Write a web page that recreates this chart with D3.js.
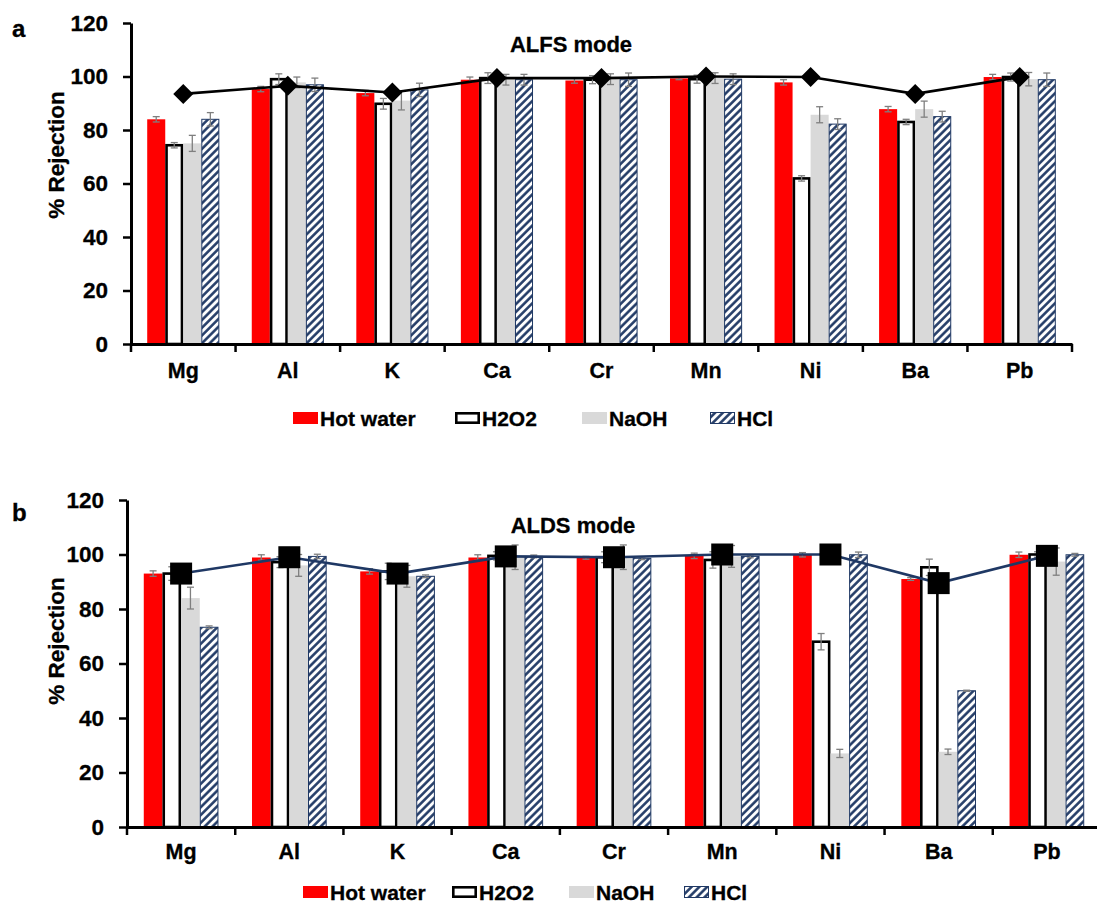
<!DOCTYPE html>
<html>
<head>
<meta charset="utf-8">
<script src="https://cdn.jsdelivr.net/npm/d3@7"></script>
<style>
  body { margin: 0; background: #fff; }
  svg { display: block; font-family: "Liberation Sans", Arial, sans-serif; font-weight: bold; }
  svg text { stroke: #000; stroke-width: 0.3px; }
</style>
</head>
<body>
<svg id="chart" width="1097" height="907"></svg>
<script>
// element categories and treatments
const categories = ['Mg', 'Al', 'K', 'Ca', 'Cr', 'Mn', 'Ni', 'Ba', 'Pb'];
const seriesNames = ['Hot water', 'H2O2', 'NaOH', 'HCl'];
const yTicks = [0, 20, 40, 60, 80, 100, 120];

// panel a - ALFS mode
const alfsHotWater = [84, 95.3, 93.8, 98.8, 98.5, 99.3, 97.8, 87.8, 99.8];
const alfsH2O2     = [74.3, 99, 89.8, 99.4, 98.8, 99, 61.9, 83, 99.8];
const alfsNaOH     = [75, 97.8, 91, 98.8, 99, 99.4, 85.7, 87.8, 99];
const alfsHCl      = [84, 96.9, 95, 98.8, 98.8, 99, 82.2, 85, 98.8];
const alfsLine     = [93.5, 96.5, 94, 99.4, 99.4, 100, 99.8, 93.5, 99.8];
const alfsHotWaterErr = [1, 1, 1, 1, 1, 0.5, 1, 1, 1];
const alfsH2O2Err     = [1, 2, 2, 2, 1.5, 1.5, 1, 1, 1.5];
const alfsNaOHErr     = [3, 2, 3.5, 2, 2, 2, 3, 3, 2.5];
const alfsHClErr      = [2.5, 2.5, 2.5, 2, 2.5, 2, 2, 2, 2.5];

// panel b - ALDS mode
const aldsHotWater = [93, 98.9, 93.8, 98.9, 98.8, 99.5, 99.9, 91, 99.9];
const aldsH2O2     = [93, 97.2, 93.8, 99.5, 99, 98, 68, 95.3, 100];
const aldsNaOH     = [84, 96, 92, 99, 99, 99.3, 27, 27.6, 97.4];
const aldsHCl      = [73.3, 99.3, 92, 99.3, 98.6, 99.3, 99.9, 50, 99.9];
const aldsLine     = [93, 99, 93, 99.3, 99, 100, 100, 89.5, 99.5];
const aldsHotWaterErr = [1, 1, 1, 1, 0.5, 1, 0.8, 0.5, 1];
const aldsH2O2Err     = [2.5, 2, 3, 1.5, 2, 3, 3, 3, 1];
const aldsNaOHErr     = [4, 4, 4, 4.5, 4.5, 4, 1.5, 1, 5];
const aldsHClErr      = [0.5, 0.8, 0.5, 0.5, 0.5, 0.5, 1, 0.2, 0.5];

const NAVY = '#1f3864';
const svg = d3.select('#chart');

// hatch for HCl
svg.append('defs').append('pattern')
    .attr('id', 'hatch')
    .attr('patternUnits', 'userSpaceOnUse')
    .attr('width', 5.5).attr('height', 5.5)
    .attr('patternTransform', 'rotate(45)')
    .call(p => {
        p.append('rect').attr('width', 5.5).attr('height', 5.5).attr('fill', '#fff');
        p.append('line').attr('x1', 1.4).attr('x2', 1.4).attr('y1', 0).attr('y2', 5.5)
            .attr('stroke', NAVY).attr('stroke-width', 2.5);
    });

const barStyle = {
    'Hot water': { fill: '#ff0000', stroke: 'none', sw: 0 },
    'H2O2':      { fill: '#ffffff', stroke: '#000', sw: 2.6 },
    'NaOH':      { fill: '#d9d9d9', stroke: 'none', sw: 0 },
    'HCl':       { fill: 'url(#hatch)', stroke: NAVY, sw: 1 }
};

function drawPanel(cfg) {
    const g = svg.append('g');
    const x = d3.scaleBand().domain(categories).range(cfg.xRange).padding(0);
    const bw = x.bandwidth();
    const x1 = d3.scaleBand().domain(seriesNames).range([bw * 0.155, bw * 0.845]).padding(0);
    const y = d3.scaleLinear().domain([0, 120]).range(cfg.yRange);

    const rows = categories.map((c, i) => ({
        cat: c,
        vals: seriesNames.map((s, k) => ({ s, v: cfg.series[k][i], e: cfg.errs[k][i] }))
    }));

    // bars
    const grp = g.selectAll('.grp').data(rows).enter().append('g')
        .attr('transform', d => `translate(${x(d.cat)},0)`);

    grp.selectAll('rect').data(d => d.vals).enter().append('rect')
        .attr('x', d => x1(d.s) + barStyle[d.s].sw / 2)
        .attr('width', d => x1.bandwidth() - barStyle[d.s].sw)
        .attr('y', d => y(d.v))
        .attr('height', d => y(0) - y(d.v))
        .attr('fill', d => barStyle[d.s].fill)
        .attr('stroke', d => barStyle[d.s].stroke)
        .attr('stroke-width', d => barStyle[d.s].sw);

    // error bars
    const eb = grp.selectAll('.err').data(d => d.vals).enter().append('g')
        .attr('stroke', '#7f7f7f').attr('stroke-width', 1.3);
    const cx = d => x1(d.s) + x1.bandwidth() / 2;
    eb.append('line').attr('x1', cx).attr('x2', cx)
        .attr('y1', d => y(d.v + d.e)).attr('y2', d => y(d.v - d.e));
    eb.append('line').attr('x1', d => cx(d) - 3.5).attr('x2', d => cx(d) + 3.5)
        .attr('y1', d => y(d.v + d.e)).attr('y2', d => y(d.v + d.e));
    eb.append('line').attr('x1', d => cx(d) - 3.5).attr('x2', d => cx(d) + 3.5)
        .attr('y1', d => y(d.v - d.e)).attr('y2', d => y(d.v - d.e));

    // y axis
    const yAxis = g.append('g')
        .attr('transform', `translate(${cfg.xRange[0]},0)`)
        .call(d3.axisLeft(y).tickValues(yTicks).tickSize(8).tickSizeOuter(0).tickPadding(15));
    yAxis.select('.domain').attr('stroke-width', 3);
    yAxis.selectAll('.tick line').attr('stroke-width', 2.5);
    yAxis.selectAll('text').attr('font-size', 22.5).attr('font-weight', 'bold')
        .attr('font-family', '"Liberation Sans", Arial, sans-serif').attr('fill', '#000');

    // x axis with ticks between categories
    const xAxis = g.append('g')
        .attr('transform', `translate(0,${y(0)})`)
        .call(d3.axisBottom(x).tickSize(0).tickPadding(cfg.labelPad));
    xAxis.select('.domain').attr('stroke-width', 3);
    xAxis.selectAll('text').attr('font-size', 21.5).attr('font-weight', 'bold')
        .attr('font-family', '"Liberation Sans", Arial, sans-serif').attr('fill', '#000');
    const edges = categories.map(c => x(c)).concat([x(categories[categories.length - 1]) + bw]);
    xAxis.selectAll('.edge').data(edges).enter().append('line')
        .attr('x1', d => d).attr('x2', d => d).attr('y1', 0).attr('y2', 8)
        .attr('stroke', '#000').attr('stroke-width', 2.5);

    // line with markers at category centres
    const pts = categories.map((c, i) => [x(c) + bw / 2, y(cfg.line[i])]);
    g.append('path').attr('d', d3.line()(pts))
        .attr('fill', 'none').attr('stroke', cfg.lineColor).attr('stroke-width', 2.6);
    g.selectAll('.mk').data(pts).enter().append('path')
        .attr('transform', d => `translate(${d[0]},${d[1]})`)
        .attr('d', cfg.marker)
        .attr('fill', '#000');

    // title, panel letter, axis label
    g.append('text').attr('x', cfg.titleX).attr('y', cfg.titleY)
        .attr('text-anchor', 'middle').attr('font-size', 22).text(cfg.title);
    g.append('text').attr('x', 12).attr('y', cfg.letterY)
        .attr('font-size', 24).text(cfg.letter);
    g.append('text')
        .attr('transform', `translate(${cfg.yLabelX},${cfg.yLabelY}) rotate(-90)`)
        .attr('text-anchor', 'middle').attr('font-size', 22.5).text('% Rejection');

    // legend
    const lg = g.append('g').attr('transform', `translate(0,${cfg.legendY})`);
    seriesNames.forEach((s, k) => {
        const lx = cfg.legendX[k];
        const st = barStyle[s];
        lg.append('rect')
            .attr('x', lx + st.sw / 2).attr('y', -6 + st.sw / 2)
            .attr('width', 25 - st.sw).attr('height', 12 - st.sw)
            .attr('fill', st.fill)
            .attr('stroke', st.stroke).attr('stroke-width', st.sw);
        lg.append('text').attr('x', lx + 27).attr('y', 8)
            .attr('font-size', 21).text(s);
    });
}

const diamond = 'M0,-10L10,0L0,10L-10,0Z';
const square = 'M-11,-11H11V11H-11Z';

drawPanel({
    xRange: [131, 1072], yRange: [344, 23],
    series: [alfsHotWater, alfsH2O2, alfsNaOH, alfsHCl],
    errs: [alfsHotWaterErr, alfsH2O2Err, alfsNaOHErr, alfsHClErr],
    line: alfsLine, lineColor: '#000', marker: diamond,
    title: 'ALFS mode', titleX: 571, titleY: 52,
    letter: 'a', letterY: 37,
    yLabelX: 64, yLabelY: 155,
    labelPad: 19,
    legendY: 418, legendX: [293, 455, 582, 710]
});

drawPanel({
    xRange: [127, 1101], yRange: [827, 500],
    series: [aldsHotWater, aldsH2O2, aldsNaOH, aldsHCl],
    errs: [aldsHotWaterErr, aldsH2O2Err, aldsNaOHErr, aldsHClErr],
    line: aldsLine, lineColor: NAVY, marker: square,
    title: 'ALDS mode', titleX: 573, titleY: 533,
    letter: 'b', letterY: 521,
    yLabelX: 64, yLabelY: 641,
    labelPad: 17,
    legendY: 892, legendX: [303, 452, 569, 684]
});
</script>
</body>
</html>
